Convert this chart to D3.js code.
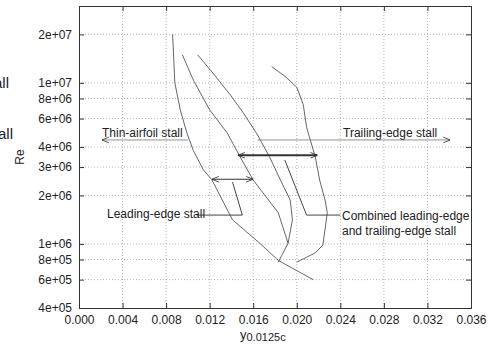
<!DOCTYPE html>
<html>
<head>
<meta charset="utf-8">
<style>
  body { margin: 0; background: #fff; }
  text { font-family: "Liberation Sans", Arial, sans-serif; fill: #222; }
</style>
</head>
<body>
<svg width="490" height="345"></svg>
<script src="https://cdn.jsdelivr.net/npm/d3@7"></script>
<script>
  var svg = d3.select("svg"),
      margin = {top: 6, right: 19, bottom: 37, left: 79},
      width = +svg.attr("width") - margin.left - margin.right,
      height = +svg.attr("height") - margin.top - margin.bottom,
      g = svg.append("g").attr("transform", "translate(" + margin.left + "," + margin.top + ")");

  // tick values / labels
  var xTicks = [0, 0.004, 0.008, 0.012, 0.016, 0.020, 0.024, 0.028, 0.032, 0.036];
  var yTicks = [4e5, 6e5, 8e5, 1e6, 2e6, 3e6, 4e6, 6e6, 8e6, 1e7, 2e7];
  var yTickLabels = ["4e+05", "6e+05", "8e+05", "1e+06", "2e+06", "3e+06", "4e+06", "6e+06", "8e+06", "1e+07", "2e+07"];

  // stall boundary curves, [y0.0125c, Re]
  var curveA = [[0.0086, 2.0e7], [0.0088, 1.0e7], [0.0093, 6.8e6], [0.0099, 4.9e6], [0.0105, 3.8e6],
                [0.0114, 2.9e6], [0.0122, 2.5e6], [0.0141, 1.41e6], [0.0166, 1.01e6], [0.0183, 7.9e5], [0.0215, 6.0e5]];
  var curveB = [[0.0095, 1.49e7], [0.0105, 1.04e7], [0.0120, 6.8e6], [0.0136, 4.9e6], [0.0148, 3.47e6],
                [0.0160, 2.49e6], [0.0183, 1.56e6], [0.0192, 1.01e6], [0.0183, 7.7e5]];
  var curveC = [[0.0109, 1.49e7], [0.0123, 1.15e7], [0.0139, 8.4e6], [0.0151, 6.5e6], [0.0164, 4.75e6],
                [0.0175, 3.47e6], [0.0185, 2.49e6], [0.0194, 1.87e6], [0.0196, 1.41e6], [0.0192, 1.01e6]];
  var curveD = [[0.0177, 1.26e7], [0.0189, 1.10e7], [0.0200, 9.4e6], [0.0206, 7.3e6], [0.0209, 5.3e6],
                [0.0217, 3.47e6], [0.0221, 2.49e6], [0.0226, 1.87e6], [0.0228, 1.56e6], [0.0224, 9.85e5],
                [0.0217, 8.8e5], [0.0200, 7.7e5]];

  // arrows [x1, y1, x2, y2]
  var thickArrow = [0.0146, 3.55e6, 0.0219, 3.55e6];
  var thinArrow = [0.0122, 2.52e6, 0.0160, 2.52e6];
  var thinAirfoilArrow = [0.0100, 4.42e6, 0.0021, 4.42e6];
  var trailingArrow = [0.0164, 4.42e6, 0.0341, 4.42e6];

  // label leader lines
  var leadingLeader = [[0.0108, 1.51e6], [0.0150, 1.51e6], [0.0141, 2.42e6]];
  var combinedLeader = [[0.0240, 1.51e6], [0.0209, 1.51e6], [0.0189, 3.32e6]];

  var x = d3.scaleLinear()
      .range([0, width])
      .domain([0, 0.036]);

  var y = d3.scaleLog()
      .range([height, 0])
      .domain([4e5, 3e7]);

  var defs = svg.append("defs");
  defs.append("marker")
      .attr("id", "head")
      .attr("viewBox", "0 0 10 10")
      .attr("refX", 10).attr("refY", 5)
      .attr("markerWidth", 7).attr("markerHeight", 7)
      .attr("markerUnits", "userSpaceOnUse")
      .attr("orient", "auto-start-reverse")
      .append("path")
      .attr("d", "M0,1L10,5L0,9")
      .attr("fill", "none")
      .attr("stroke", "#333")
      .attr("stroke-width", 1.2);

  // grid
  g.append("g").selectAll("line")
      .data(xTicks.slice(1, -1))
      .enter().append("line")
      .attr("x1", function(d) { return x(d); })
      .attr("x2", function(d) { return x(d); })
      .attr("y1", 0).attr("y2", height)
      .attr("stroke", "#999").attr("stroke-width", 0.7)
      .attr("stroke-dasharray", "1,2");

  g.append("g").selectAll("line")
      .data(yTicks.slice(1))
      .enter().append("line")
      .attr("y1", function(d) { return y(d); })
      .attr("y2", function(d) { return y(d); })
      .attr("x1", 0).attr("x2", width)
      .attr("stroke", "#999").attr("stroke-width", 0.7)
      .attr("stroke-dasharray", "1,2");

  // axes
  g.append("g")
      .attr("transform", "translate(0," + height + ")")
      .call(d3.axisBottom(x).tickValues(xTicks).tickFormat(d3.format(".3f")).tickSize(-5).tickPadding(7));

  g.append("g")
      .call(d3.axisLeft(y).tickValues(yTicks).tickFormat(function(d, i) { return yTickLabels[i]; }).tickSize(-5).tickPadding(7));

  g.append("g")
      .call(d3.axisTop(x).tickValues(xTicks).tickFormat("").tickSize(-5));

  g.append("g")
      .attr("transform", "translate(" + width + ",0)")
      .call(d3.axisRight(y).tickValues(yTicks).tickFormat("").tickSize(-5));

  g.selectAll(".domain").attr("stroke", "#333");
  g.selectAll(".tick line").attr("stroke", "#333");
  g.selectAll(".tick text").attr("font-size", 12).attr("fill", "#222")
      .attr("font-family", "'Liberation Sans', Arial, sans-serif");

  // curves
  var line = d3.line()
      .x(function(d) { return x(d[0]); })
      .y(function(d) { return y(d[1]); });

  [curveA, curveB, curveC, curveD].forEach(function(c) {
    g.append("path")
        .datum(c)
        .attr("fill", "none")
        .attr("stroke", "#555")
        .attr("stroke-width", 0.9)
        .attr("stroke-linejoin", "round")
        .attr("d", line);
  });

  [leadingLeader, combinedLeader].forEach(function(c) {
    g.append("path")
        .datum(c)
        .attr("fill", "none")
        .attr("stroke", "#444")
        .attr("stroke-width", 1)
        .attr("d", line);
  });

  function arrow(a, w, col, both) {
    g.append("line")
        .attr("x1", x(a[0])).attr("y1", y(a[1]))
        .attr("x2", x(a[2])).attr("y2", y(a[3]))
        .attr("stroke", col)
        .attr("stroke-width", w)
        .attr("marker-end", "url(#head)")
        .attr("marker-start", both ? "url(#head)" : null);
  }
  arrow(thickArrow, 2, "#333", true);
  arrow(thinArrow, 1, "#333", true);
  arrow(thinAirfoilArrow, 0.8, "#777", false);
  arrow(trailingArrow, 0.8, "#777", false);

  // labels
  function label(txt, px, py) {
    g.append("text")
        .attr("x", px).attr("y", py)
        .attr("font-size", 12)
        .text(txt);
  }
  label("Thin-airfoil stall", 23, 131);
  label("Trailing-edge stall", 264, 131);
  label("Leading-edge stall", 28, 212);
  label("Combined leading-edge", 263, 214);
  label("and trailing-edge stall", 263, 229);

  // axis titles
  svg.append("text")
      .attr("transform", "translate(24,157) rotate(-90)")
      .attr("text-anchor", "middle")
      .attr("font-size", 12)
      .text("Re");

  var xt = svg.append("text")
      .attr("x", 240).attr("y", 339)
      .attr("font-size", 13);
  xt.append("tspan").text("y");
  xt.append("tspan").attr("dy", 2).attr("font-size", 11).text("0.0125c");

  // fragments of neighbouring panel text at the left edge
  svg.append("text").attr("x", 9).attr("y", 88).attr("text-anchor", "end").attr("font-size", 15).text("stall");
  svg.append("text").attr("x", 13).attr("y", 139).attr("text-anchor", "end").attr("font-size", 15).text("stall");
</script>
</body>
</html>
